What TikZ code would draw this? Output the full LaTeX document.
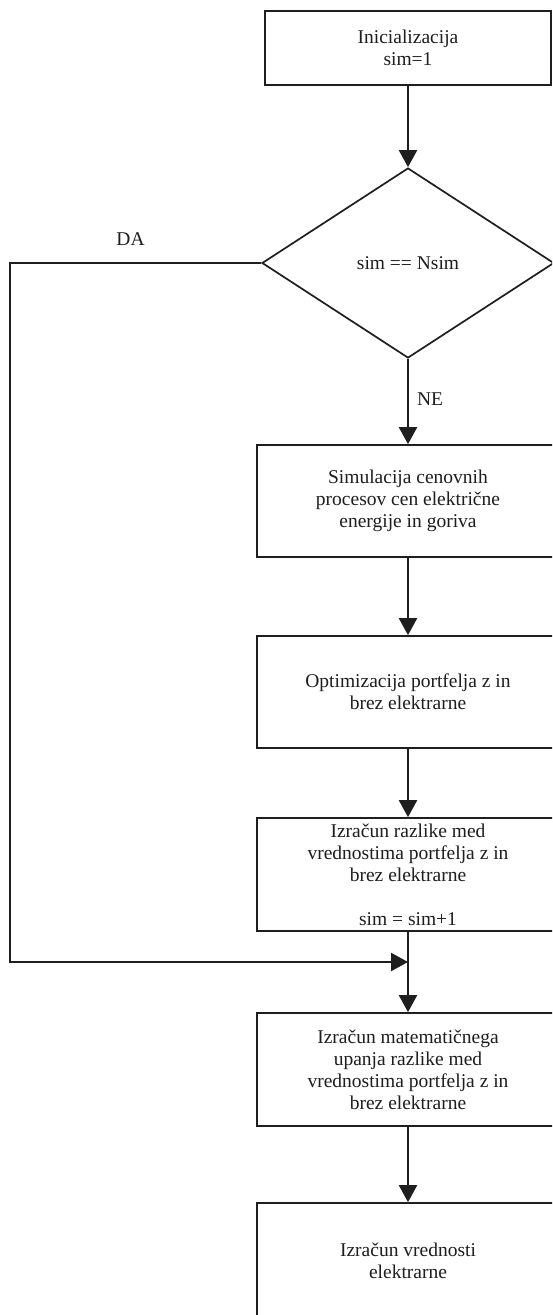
\documentclass[tikz,border=0pt]{standalone}
\usepackage{fontspec}
\setmainfont{Liberation Serif}
\usetikzlibrary{arrows.meta,shapes.geometric}
\definecolor{ink}{HTML}{1E1E1E}
\begin{document}
\begin{tikzpicture}[x=1pt,y=-1pt,
  every node/.style={font=\fontsize{19.5}{22}\selectfont, text=ink},
  procbox/.style={draw=ink, line width=1.7pt, rectangle, inner sep=0pt, align=center,
     minimum width=302pt},
  decbox/.style={draw=ink, line width=1.7pt, diamond, inner sep=0pt, aspect=1.54,
     minimum width=292pt, minimum height=190pt},
  arr/.style={draw=ink, line width=2.2pt, -{Triangle[length=17pt,width=18pt]}},
  lin/.style={draw=ink, line width=2.2pt}
]
\useasboundingbox (0,0) rectangle (552,1315);
\clip (0,0) rectangle (552,1315);
\fill[white] (0,0) rectangle (552,1315);

\node[procbox, minimum width=286pt, minimum height=74pt] (init) at (408,48) {Inicializacija\\sim=1};
\node[decbox] (dec) at (408,263) {sim == Nsim};
\node[procbox, minimum height=112pt] (sim) at (408,501) {Simulacija cenovnih\\procesov cen električne\\energije in goriva};
\node[procbox, minimum height=112pt] (opt) at (408,692) {Optimizacija portfelja z in\\brez elektrarne};
\node[procbox, minimum height=113pt] (calc) at (408,874.5) {Izračun razlike med\\vrednostima portfelja z in\\brez elektrarne\\[22pt]sim = sim+1};
\node[procbox, minimum height=113pt] (exp) at (408,1069.5) {Izračun matematičnega\\upanja razlike med\\vrednostima portfelja z in\\brez elektrarne};
\node[procbox, minimum height=116pt] (val) at (408,1261) {Izračun vrednosti\\elektrarne};

\coordinate (c1) at (10,263);
\coordinate (c2) at (10,962);
\coordinate (j) at (408,962);

\draw[arr] (init.south) -- (dec.north);
\draw[arr] (dec.south) -- node[pos=0.47, right=8pt, inner sep=0pt] (ne) {NE} (sim.north);
\draw[arr] (sim.south) -- (opt.north);
\draw[arr] (opt.south) -- (calc.north);
\draw[arr] (calc.south) -- (exp.north);
\draw[arr] (dec.west) -- node[pos=0.52, above=16pt, inner sep=0pt] (da) {DA} (c1) -- (c2) -- (j);
\draw[arr] (exp.south) -- (val.north);
\end{tikzpicture}
\end{document}
